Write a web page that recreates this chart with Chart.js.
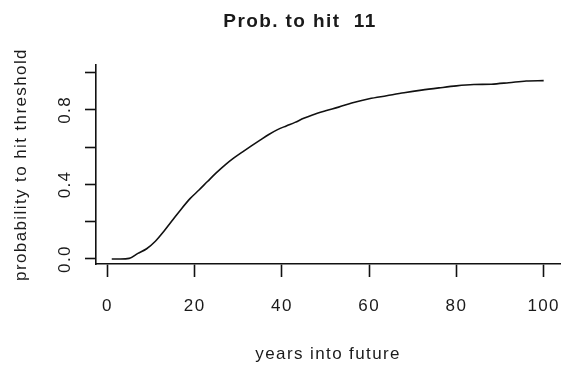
<!DOCTYPE html>
<html>
<head>
<meta charset="utf-8">
<script src="https://cdn.jsdelivr.net/npm/chart.js@4"></script>
<style>
  html, body { margin: 0; padding: 0; background: #fff; }
  #wrap { width: 577px; height: 368px; }
</style>
</head>
<body>
<div id="wrap"><canvas id="c" width="577" height="368"></canvas></div>
<script>
// ---- data ----
const years = [1, 3, 5, 7, 9, 11, 13, 15, 17, 19, 21, 23, 25, 27, 29, 31, 33, 35, 37, 39,
               41, 43, 45, 47, 50, 53, 56, 60, 64, 68, 72, 76, 80, 84, 88, 92, 96, 100];
const probHit = [0.0, 0.0, 0.003, 0.03, 0.055, 0.095, 0.15, 0.21, 0.27, 0.325, 0.37, 0.417,
                 0.463, 0.505, 0.542, 0.575, 0.607, 0.638, 0.668, 0.694, 0.714, 0.733, 0.755,
                 0.773, 0.795, 0.815, 0.837, 0.86, 0.876, 0.892, 0.906, 0.918, 0.929, 0.936,
                 0.938, 0.946, 0.955, 0.957];
const xTicks = [0, 20, 40, 60, 80, 100];
const yTicks = [0.0, 0.2, 0.4, 0.6, 0.8, 1.0];
const yLabelled = [0.0, 0.4, 0.8];
const titleText = 'Prob. to hit  11';
const xTitle = 'years into future';
const yTitle = 'probability to hit threshold';

const FONT = '"Liberation Sans", Arial, sans-serif';
const INK = '#1a1a1a';

const pts = years.map((x, i) => ({ x: x, y: probHit[i] }));

// wider letter spacing, like the reference's text rendering
const spacing = {
  id: 'spacing',
  beforeDraw(chart) { chart.ctx.letterSpacing = '1.4px'; }
};

new Chart(document.getElementById('c'), {
  type: 'line',
  plugins: [spacing],
  data: {
    datasets: [{
      data: pts,
      borderColor: '#111',
      borderWidth: 1.6,
      pointRadius: 0,
      fill: false,
      cubicInterpolationMode: 'monotone'
    }]
  },
  options: {
    responsive: false,
    animation: false,
    devicePixelRatio: 1,
    layout: { padding: { left: 27, right: 4, top: 0, bottom: 0 } },
    plugins: {
      legend: { display: false },
      tooltip: { enabled: false },
      title: {
        display: true,
        text: titleText,
        color: INK,
        font: { family: FONT, size: 19, weight: 'bold', lineHeight: 1.2 },
        padding: { top: 10.6, bottom: 31.6 }
      }
    },
    scales: {
      x: {
        type: 'linear',
        min: -2.61,
        max: 103.8,
        afterBuildTicks: (s) => { s.ticks = xTicks.map(v => ({ value: v })); },
        afterFit: (s) => { s.height = 104; },
        ticks: {
          color: INK,
          font: { family: FONT, size: 17, lineHeight: 1.2 },
          padding: 19,
          autoSkip: false,
          maxRotation: 0,
          callback: (v) => String(v)
        },
        grid: {
          drawOnChartArea: false,
          drawTicks: true,
          tickLength: 13,
          tickColor: '#111',
          tickWidth: 1.6
        },
        border: { display: true, color: '#111', width: 1.6 },
        title: {
          display: true,
          text: xTitle,
          color: INK,
          font: { family: FONT, size: 17, lineHeight: 1.2 },
          padding: { top: 0, bottom: 3 }
        }
      },
      y: {
        type: 'linear',
        min: -0.027,
        max: 1.041,
        afterBuildTicks: (s) => { s.ticks = yTicks.map(v => ({ value: v })); },
        afterFit: (s) => { s.width = 69; },
        ticks: {
          color: INK,
          font: { family: FONT, size: 17, lineHeight: 1.2 },
          padding: 8,
          autoSkip: false,
          minRotation: 90,
          maxRotation: 90,
          crossAlign: 'center',
          callback: (v) => yLabelled.some(t => Math.abs(t - v) < 1e-9) ? Number(v).toFixed(1) : ''
        },
        grid: {
          drawOnChartArea: false,
          drawTicks: true,
          tickLength: 11,
          tickColor: '#111',
          tickWidth: 1.6
        },
        border: { display: true, color: '#111', width: 1.6 },
        title: {
          display: true,
          text: yTitle,
          color: INK,
          font: { family: FONT, size: 17, lineHeight: 1.2 },
          padding: { top: -16, bottom: 0 }
        }
      }
    }
  }
});
</script>
</body>
</html>
